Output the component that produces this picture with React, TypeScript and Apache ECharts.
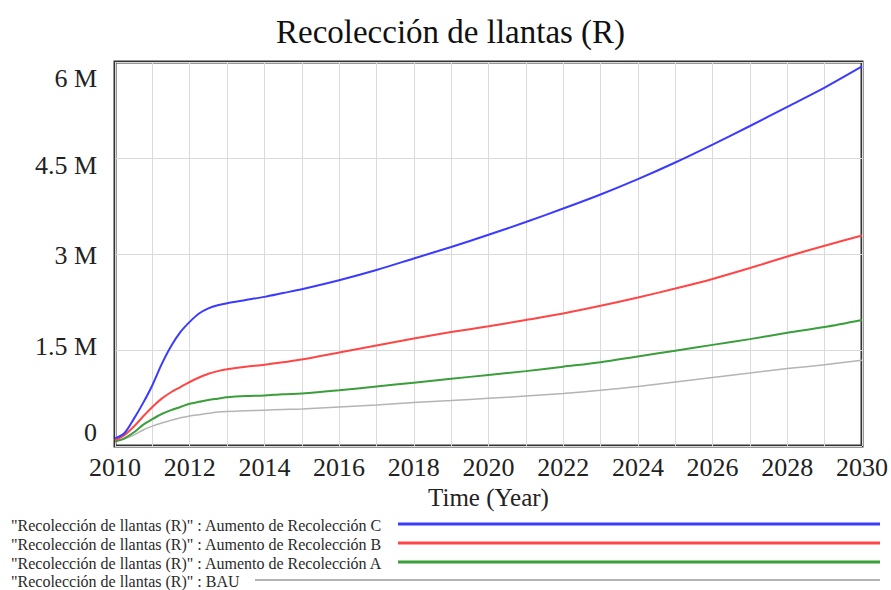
import React, { useEffect, useRef } from "react";
import * as echarts from "echarts";

// Time (years)
const years = [
  2010, 2010.25, 2010.5, 2010.75, 2011, 2011.25, 2011.5, 2011.75, 2012, 2012.25, 2012.5, 2012.75,
  2013, 2013.5, 2014, 2014.5, 2015, 2016, 2017, 2018, 2019, 2020, 2021, 2022, 2023, 2024, 2025,
  2026, 2027, 2028, 2029, 2030,
];

// Values in millions
const aumentoC = [
  0.12, 0.2, 0.42, 0.67, 0.95, 1.28, 1.56, 1.78, 1.94, 2.07, 2.15, 2.2,
  2.23, 2.28, 2.33, 2.39, 2.45, 2.59, 2.75, 2.93, 3.11, 3.3, 3.5, 3.71, 3.93, 4.17, 4.43,
  4.71, 5.0, 5.3, 5.6, 5.93,
];
const aumentoB = [
  0.09, 0.17, 0.3, 0.46, 0.61, 0.74, 0.84, 0.92, 1.0, 1.07, 1.13, 1.17,
  1.2, 1.24, 1.27, 1.31, 1.35, 1.46, 1.57, 1.68, 1.78, 1.87, 1.97, 2.07, 2.19, 2.32, 2.46,
  2.61, 2.78, 2.96, 3.13, 3.29,
];
const aumentoA = [
  0.07, 0.12, 0.21, 0.33, 0.42, 0.5, 0.56, 0.61, 0.66, 0.69, 0.72, 0.74,
  0.76, 0.78, 0.79, 0.81, 0.82, 0.87, 0.93, 0.99, 1.05, 1.11, 1.17, 1.24, 1.31, 1.4, 1.49,
  1.58, 1.67, 1.77, 1.86, 1.97,
];
const bau = [
  0.07, 0.11, 0.17, 0.25, 0.31, 0.36, 0.4, 0.44, 0.47, 0.49, 0.51, 0.53,
  0.54, 0.55, 0.56, 0.57, 0.58, 0.61, 0.64, 0.68, 0.71, 0.745, 0.78, 0.82, 0.87, 0.93, 1.0,
  1.07, 1.14, 1.21, 1.27, 1.34,
];

const seriesNames = [
  '"Recolección de llantas (R)" : Aumento de Recolección C',
  '"Recolección de llantas (R)" : Aumento de Recolección B',
  '"Recolección de llantas (R)" : Aumento de Recolección A',
  '"Recolección de llantas (R)" : BAU',
];
const seriesValues = [aumentoC, aumentoB, aumentoA, bau];
const seriesColors = ["#3b3bff", "#ff4646", "#3a9e3a", "#b4b4b4"];
const seriesWidths = [2, 2, 2, 1.5];

const titleText = "Recolección de llantas (R)";
const xAxisTitle = "Time (Year)";

const FONT = "'Liberation Serif', 'Times New Roman', serif";

// per-label vertical nudges (Vensim-style inset labels)
const yLabelRich: Record<string, any> = {
  t6: { padding: [32, 0, 0, 0] },
  t45: { padding: [14, 0, 0, 0] },
  t3: { padding: [2, 0, 0, 0] },
  t15: { padding: [0, 0, 8, 0] },
  t0: { padding: [0, 0, 28, 0] },
};
const yKey = (v: number) =>
  v === 6 ? "t6" : v === 4.5 ? "t45" : v === 3 ? "t3" : v === 1.5 ? "t15" : "t0";

export default function App() {
  const ref = useRef<HTMLDivElement>(null);
  useEffect(() => {
    document.body.style.margin = "0";
    const chart = echarts.init(ref.current!, null, { renderer: "svg" });

    const legendRows = [525, 544, 563, 581];
    const legendLineStart = [398, 398, 398, 255];
    const legendGraphics: any[] = [];
    seriesNames.forEach((name, i) => {
      legendGraphics.push({
        type: "text",
        x: 11,
        y: legendRows[i],
        style: {
          text: name,
          font: `16px ${FONT}`,
          fill: "#2a2a2a",
          verticalAlign: "middle",
        },
      });
      legendGraphics.push({
        type: "line",
        shape: { x1: legendLineStart[i], y1: legendRows[i] - 1, x2: 880, y2: legendRows[i] - 1 },
        style: { stroke: seriesColors[i], lineWidth: i === 3 ? 2 : 3 },
      });
    });

    Object.keys(yLabelRich).forEach((k) => {
      yLabelRich[k] = { ...yLabelRich[k], fontFamily: FONT, fontSize: 26, color: "#222" };
    });

    chart.setOption({
      animation: false,
      backgroundColor: "#fff",
      title: {
        text: titleText,
        left: 271,
        top: 10,
        textStyle: { fontFamily: FONT, fontSize: 33, fontWeight: "normal", color: "#111" },
      },
      grid: {
        left: 115,
        right: 27,
        top: 62,
        bottom: 144,
        show: true,
        borderColor: "#333",
        borderWidth: 3,
      },
      xAxis: {
        type: "value",
        min: 2010,
        max: 2030,
        interval: 1,
        name: xAxisTitle,
        nameLocation: "middle",
        nameGap: 38,
        nameTextStyle: { fontFamily: FONT, fontSize: 25, color: "#222" },
        axisLine: { show: false },
        axisTick: { show: false },
        axisLabel: {
          fontFamily: FONT,
          fontSize: 26,
          color: "#222",
          margin: 8,
          formatter: (v: number) => (Math.round(v) % 2 === 0 ? String(Math.round(v)) : ""),
        },
        splitLine: { show: true, lineStyle: { color: "#dadada", width: 1 } },
      },
      yAxis: {
        type: "value",
        min: 0,
        max: 6,
        interval: 1.5,
        axisLine: { show: false },
        axisTick: { show: false },
        axisLabel: {
          fontFamily: FONT,
          fontSize: 26,
          color: "#222",
          margin: 18,
          formatter: (v: number) => `{${yKey(v)}|${v === 0 ? "0" : `${v} M`}}`,
          rich: yLabelRich,
        },
        splitLine: { show: true, lineStyle: { color: "#dadada", width: 1 } },
      },
      series: seriesNames
        .map((name, i) => ({
          name,
          type: "line",
          smooth: 0.3,
          showSymbol: false,
          data: years.map((y, j) => [y, seriesValues[i][j]]),
          lineStyle: { color: seriesColors[i], width: seriesWidths[i] },
          itemStyle: { color: seriesColors[i] },
        }))
        .reverse(),
      graphic: legendGraphics,
    });
    return () => chart.dispose();
  }, []);
  return <div ref={ref} style={{ width: 891, height: 590 }} />;
}
